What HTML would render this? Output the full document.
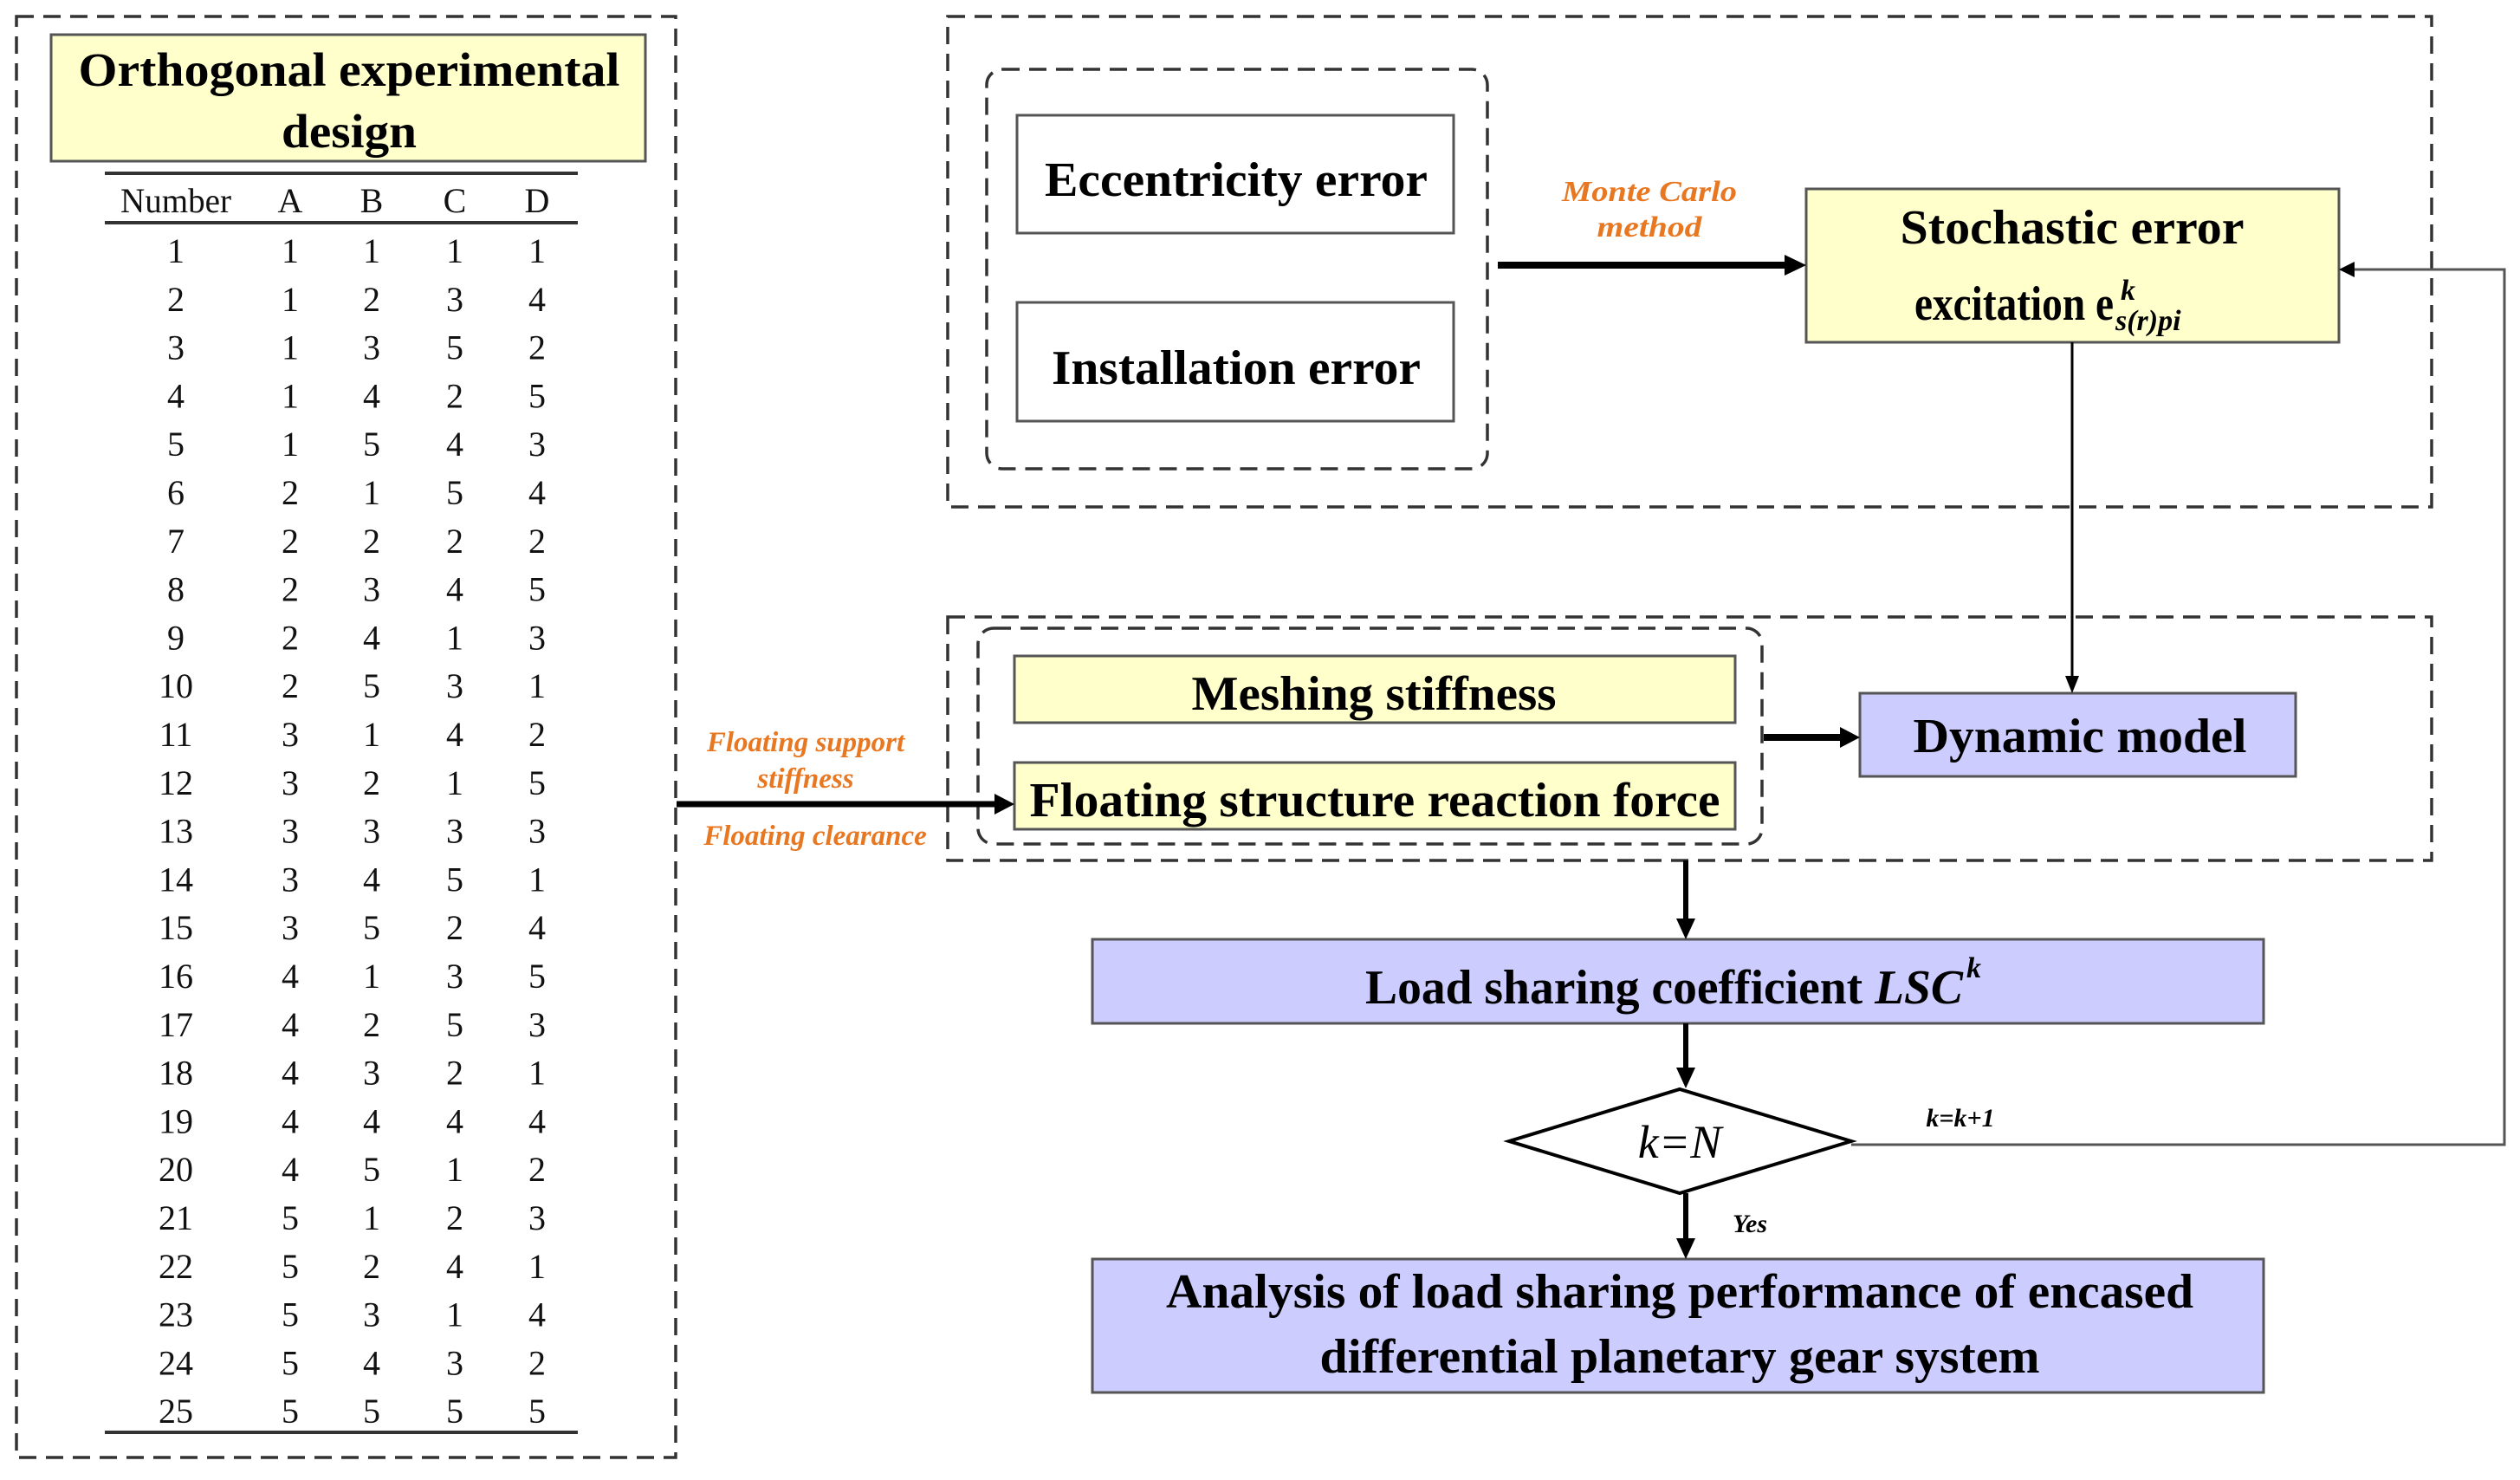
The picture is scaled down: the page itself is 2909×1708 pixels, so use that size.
<!DOCTYPE html>
<html><head><meta charset="utf-8"><style>html,body{margin:0;padding:0;background:#fff}svg{display:block}</style></head>
<body>
<svg xmlns="http://www.w3.org/2000/svg" width="2909" height="1708" viewBox="0 0 2909 1708" font-family="Liberation Serif, serif">
<g fill="none" stroke="#333" stroke-width="3.5" stroke-dasharray="20 11">
<rect x="19" y="19" width="761" height="1663"/>
<rect x="1094" y="19" width="1713" height="566"/>
<rect x="1094" y="712" width="1713" height="281"/>
<rect x="1139" y="80" width="578" height="461" rx="18"/>
<rect x="1129" y="725" width="905" height="249" rx="18"/>
</g>
<rect x="59" y="40" width="686" height="146" fill="#FFFFCC" stroke="#555" stroke-width="3"/>
<g font-weight="bold" fill="#000" text-anchor="middle">
<text x="403" y="99" font-size="55" textLength="625" lengthAdjust="spacingAndGlyphs">Orthogonal experimental</text>
<text x="403" y="170" font-size="55" textLength="156" lengthAdjust="spacingAndGlyphs">design</text>
</g>
<g stroke="#333" stroke-width="4"><line x1="121" y1="200" x2="667" y2="200"/><line x1="121" y1="257" x2="667" y2="257"/><line x1="121" y1="1653" x2="667" y2="1653"/></g>
<g font-size="40" text-anchor="middle" fill="#111">
<text x="203" y="245" textLength="128" lengthAdjust="spacingAndGlyphs">Number</text><text x="335" y="245">A</text><text x="429" y="245">B</text><text x="525" y="245">C</text><text x="620" y="245">D</text>
</g>
<g font-size="40" text-anchor="middle" fill="#111">
<g transform="translate(0,303)"><text x="203">1</text><text x="335">1</text><text x="429">1</text><text x="525">1</text><text x="620">1</text></g>
<g transform="translate(0,358.8)"><text x="203">2</text><text x="335">1</text><text x="429">2</text><text x="525">3</text><text x="620">4</text></g>
<g transform="translate(0,414.6)"><text x="203">3</text><text x="335">1</text><text x="429">3</text><text x="525">5</text><text x="620">2</text></g>
<g transform="translate(0,470.4)"><text x="203">4</text><text x="335">1</text><text x="429">4</text><text x="525">2</text><text x="620">5</text></g>
<g transform="translate(0,526.2)"><text x="203">5</text><text x="335">1</text><text x="429">5</text><text x="525">4</text><text x="620">3</text></g>
<g transform="translate(0,582)"><text x="203">6</text><text x="335">2</text><text x="429">1</text><text x="525">5</text><text x="620">4</text></g>
<g transform="translate(0,637.8)"><text x="203">7</text><text x="335">2</text><text x="429">2</text><text x="525">2</text><text x="620">2</text></g>
<g transform="translate(0,693.6)"><text x="203">8</text><text x="335">2</text><text x="429">3</text><text x="525">4</text><text x="620">5</text></g>
<g transform="translate(0,749.4)"><text x="203">9</text><text x="335">2</text><text x="429">4</text><text x="525">1</text><text x="620">3</text></g>
<g transform="translate(0,805.2)"><text x="203">10</text><text x="335">2</text><text x="429">5</text><text x="525">3</text><text x="620">1</text></g>
<g transform="translate(0,861)"><text x="203">11</text><text x="335">3</text><text x="429">1</text><text x="525">4</text><text x="620">2</text></g>
<g transform="translate(0,916.8)"><text x="203">12</text><text x="335">3</text><text x="429">2</text><text x="525">1</text><text x="620">5</text></g>
<g transform="translate(0,972.6)"><text x="203">13</text><text x="335">3</text><text x="429">3</text><text x="525">3</text><text x="620">3</text></g>
<g transform="translate(0,1028.4)"><text x="203">14</text><text x="335">3</text><text x="429">4</text><text x="525">5</text><text x="620">1</text></g>
<g transform="translate(0,1084.2)"><text x="203">15</text><text x="335">3</text><text x="429">5</text><text x="525">2</text><text x="620">4</text></g>
<g transform="translate(0,1140)"><text x="203">16</text><text x="335">4</text><text x="429">1</text><text x="525">3</text><text x="620">5</text></g>
<g transform="translate(0,1195.8)"><text x="203">17</text><text x="335">4</text><text x="429">2</text><text x="525">5</text><text x="620">3</text></g>
<g transform="translate(0,1251.6)"><text x="203">18</text><text x="335">4</text><text x="429">3</text><text x="525">2</text><text x="620">1</text></g>
<g transform="translate(0,1307.4)"><text x="203">19</text><text x="335">4</text><text x="429">4</text><text x="525">4</text><text x="620">4</text></g>
<g transform="translate(0,1363.2)"><text x="203">20</text><text x="335">4</text><text x="429">5</text><text x="525">1</text><text x="620">2</text></g>
<g transform="translate(0,1419)"><text x="203">21</text><text x="335">5</text><text x="429">1</text><text x="525">2</text><text x="620">3</text></g>
<g transform="translate(0,1474.8)"><text x="203">22</text><text x="335">5</text><text x="429">2</text><text x="525">4</text><text x="620">1</text></g>
<g transform="translate(0,1530.6)"><text x="203">23</text><text x="335">5</text><text x="429">3</text><text x="525">1</text><text x="620">4</text></g>
<g transform="translate(0,1586.4)"><text x="203">24</text><text x="335">5</text><text x="429">4</text><text x="525">3</text><text x="620">2</text></g>
<g transform="translate(0,1642.2)"><text x="203">25</text><text x="335">5</text><text x="429">5</text><text x="525">5</text><text x="620">5</text></g>
</g>
<rect x="1174" y="133" width="504" height="136" fill="#fff" stroke="#555" stroke-width="3"/>
<rect x="1174" y="349" width="504" height="137" fill="#fff" stroke="#555" stroke-width="3"/>
<rect x="2085" y="218" width="615" height="177" fill="#FFFFCC" stroke="#555" stroke-width="3"/>
<rect x="1171" y="757" width="832" height="77" fill="#FFFFCC" stroke="#555" stroke-width="3"/>
<rect x="1171" y="880" width="832" height="77" fill="#FFFFCC" stroke="#555" stroke-width="3"/>
<rect x="2147" y="800" width="503" height="96" fill="#CCCCFF" stroke="#555" stroke-width="3"/>
<rect x="1261" y="1084" width="1352" height="97" fill="#CCCCFF" stroke="#555" stroke-width="3"/>
<rect x="1261" y="1453" width="1352" height="154" fill="#CCCCFF" stroke="#555" stroke-width="3"/>
<polygon points="1742,1317 1939,1257 2137,1317 1939,1377" fill="#fff" stroke="#000" stroke-width="4"/>
<g font-weight="bold" fill="#000" text-anchor="middle" font-size="56">
<text x="1427" y="226" textLength="442" lengthAdjust="spacingAndGlyphs">Eccentricity error</text>
<text x="1427" y="443" textLength="426" lengthAdjust="spacingAndGlyphs">Installation error</text>
<text x="2392" y="281" textLength="397" lengthAdjust="spacingAndGlyphs">Stochastic error</text>
<text x="1586" y="819" textLength="421" lengthAdjust="spacingAndGlyphs">Meshing stiffness</text>
<text x="1587" y="942" textLength="797" lengthAdjust="spacingAndGlyphs">Floating structure reaction force</text>
<text x="2401" y="868" textLength="385" lengthAdjust="spacingAndGlyphs">Dynamic model</text>
<text x="1921" y="1158" textLength="690" lengthAdjust="spacingAndGlyphs">Load sharing coefficient <tspan font-style="italic">LSC</tspan></text>
<text x="1939" y="1509" textLength="1186" lengthAdjust="spacingAndGlyphs">Analysis of load sharing performance of encased</text>
<text x="1939" y="1584" textLength="831" lengthAdjust="spacingAndGlyphs">differential planetary gear system</text>
</g>
<text x="2270" y="1128" font-size="34" font-style="italic" font-weight="bold" fill="#000">k</text>
<g font-weight="bold" fill="#000" font-size="56">
<text x="2210" y="369" textLength="230" lengthAdjust="spacingAndGlyphs">excitation e</text>
<text x="2448" y="346" font-size="34" font-style="italic">k</text>
<text x="2442" y="381" font-size="34" font-style="italic">s(r)pi</text>
</g>
<text x="1939" y="1336" font-size="54" font-style="italic" text-anchor="middle" fill="#000">k=N</text>
<text x="2263" y="1300" font-size="30" font-style="italic" font-weight="bold" text-anchor="middle" fill="#000">k=k+1</text>
<text x="2020" y="1422" font-size="30" font-style="italic" font-weight="bold" text-anchor="middle" fill="#000">Yes</text>
<g font-style="italic" font-weight="bold" fill="#E87722" text-anchor="middle">
<text x="1904" y="232" font-size="34" textLength="202" lengthAdjust="spacingAndGlyphs">Monte Carlo</text>
<text x="1904" y="273" font-size="34" textLength="121" lengthAdjust="spacingAndGlyphs">method</text>
<text x="930" y="867" font-size="33">Floating support</text>
<text x="930" y="909" font-size="33">stiffness</text>
<text x="941" y="975" font-size="33">Floating clearance</text>
</g>
<g stroke="#000" fill="none">
<line x1="1729" y1="306" x2="2070" y2="306" stroke-width="8"/>
<polygon points="2085,306 2060,294 2060,318" fill="#000" stroke="none"/>
<line x1="781" y1="928" x2="1158" y2="928" stroke-width="7"/>
<polygon points="1171,928 1148,916 1148,940" fill="#000" stroke="none"/>
<line x1="2036" y1="851" x2="2132" y2="851" stroke-width="8"/>
<polygon points="2147,851 2124,839 2124,863" fill="#000" stroke="none"/>
<line x1="2392" y1="395" x2="2392" y2="785" stroke-width="3"/>
<polygon points="2392,800 2384,780 2400,780" fill="#000" stroke="none"/>
<line x1="1946" y1="993" x2="1946" y2="1068" stroke-width="6"/>
<polygon points="1946,1084 1935,1060 1957,1060" fill="#000" stroke="none"/>
<line x1="1946" y1="1181" x2="1946" y2="1240" stroke-width="6"/>
<polygon points="1946,1256 1935,1232 1957,1232" fill="#000" stroke="none"/>
<line x1="1946" y1="1377" x2="1946" y2="1437" stroke-width="6"/>
<polygon points="1946,1453 1935,1429 1957,1429" fill="#000" stroke="none"/>
<polyline points="2137,1321 2891,1321 2891,311 2715,311" stroke="#555" stroke-width="3"/>
<polygon points="2700,311 2718,302 2718,320" fill="#000" stroke="none"/>
</g>
</svg>
</body></html>
